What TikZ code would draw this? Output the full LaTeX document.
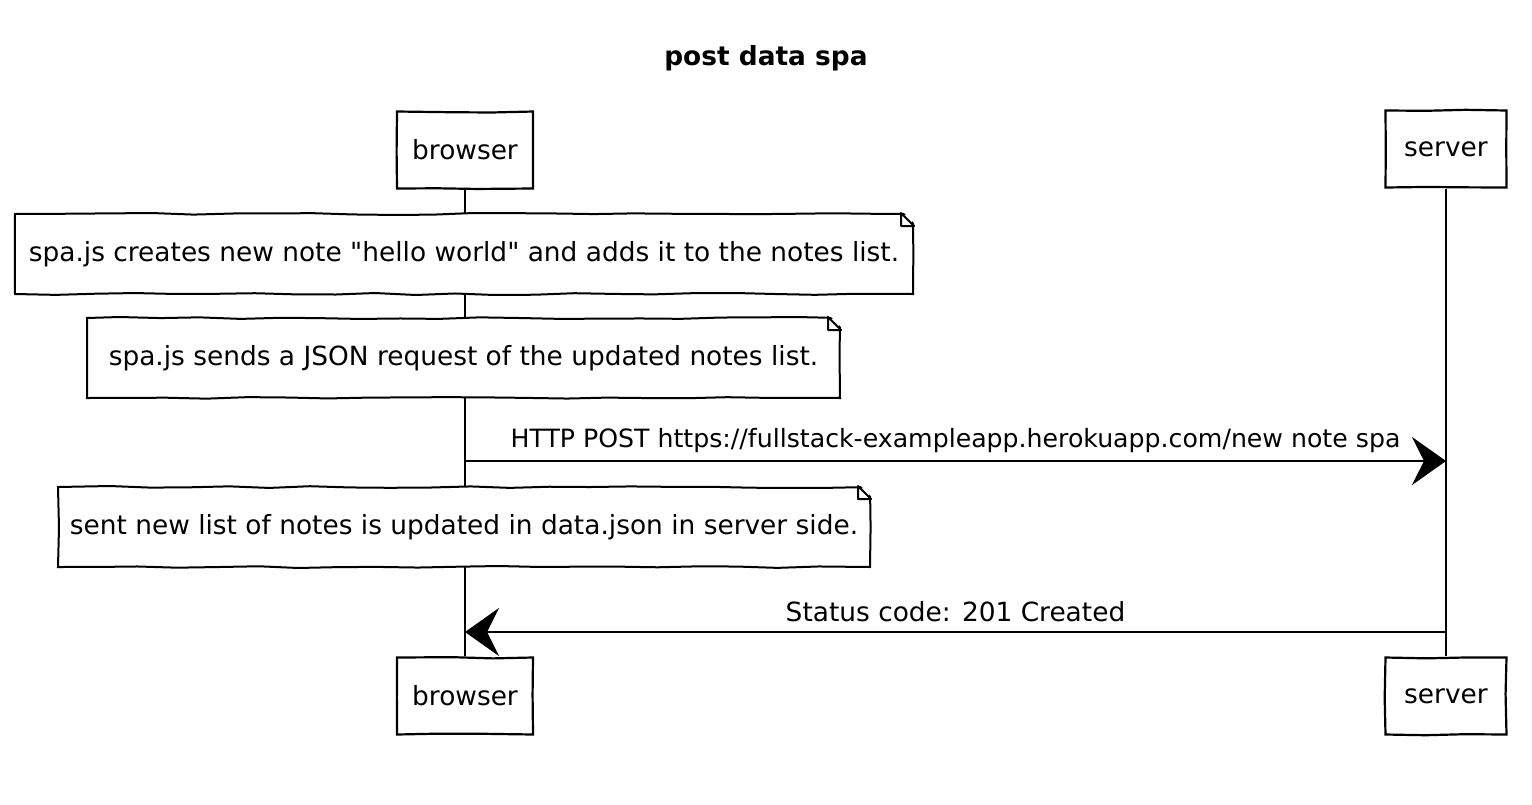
\documentclass[tikz,border=0pt]{standalone}
\usepackage{fontspec}
\setmainfont{DejaVu Sans}
\usetikzlibrary{arrows.meta,calc,decorations.pathmorphing}

\tikzset{
  sketch/.style={decorate,decoration={random steps,segment length=20pt,amplitude=0.5pt}},
  handfont/.style={font=\fontsize{13.2}{15}\selectfont},
  actor/.style={draw,line width=1.1pt,minimum width=68pt,minimum height=38.5pt,inner sep=0pt,handfont,sketch},
  notebox/.style={draw,line width=1pt,fill=white,minimum height=40pt,inner sep=0pt,handfont,sketch},
  lifeline/.style={line width=0.6pt},
  msg/.style={line width=1.2pt,-{Stealth[length=17pt,width=24pt,inset=6pt]}},
}

\begin{document}
\begin{tikzpicture}[x=0.5pt,y=-0.5pt]
\pgfmathsetseed{7}
\useasboundingbox (0,0) rectangle (1532,804);

% title
\node[font=\fontsize{13.2}{16}\selectfont\bfseries] (title) at (766,58) {post data spa};

% participants
\node[actor] (browserTop) at (465,150) {browser};
\node[actor,minimum width=60.5pt] (serverTop) at (1446,149) {server};
\node[actor] (browserBot) at (465,696) {browser};
\node[actor,minimum width=60.5pt] (serverBot) at (1446,696) {server};

\draw[lifeline] (browserTop) -- (browserBot);
\draw[lifeline] (serverTop) -- (serverBot);

% notes
\node[notebox,minimum width=449pt] (noteCreate) at (464,254)
  {spa.js creates new note \textquotedbl hello world\textquotedbl{} and adds it to the notes list.};
\node[notebox,minimum width=376.5pt] (noteSend) at (463.5,358)
  {spa.js sends a JSON request of the updated notes list.};
\node[notebox,minimum width=406pt] (noteSaved) at (464,527)
  {sent new list of notes is updated in data.json in server side.};

\foreach \n in {noteCreate,noteSend,noteSaved}{
  \fill[white] ($(\n.north east)+(-13,-3)$) -- ($(\n.north east)+(3,-3)$) -- ($(\n.north east)+(3,13)$) -- cycle;
  \draw[line width=1pt,line join=round] ($(\n.north east)+(-13,0)$) -- ($(\n.north east)+(-13,13)$) -- ($(\n.north east)+(0,13)$) -- cycle;
}

% messages
\coordinate (postFrom) at (465,461);
\coordinate (postTo) at (1446,461);
\coordinate (replyFrom) at (1446,632);
\coordinate (replyTo) at (465,632);

\draw[msg] (postFrom) -- node[above=0pt,font=\fontsize{12.6}{15}\selectfont]
  {HTTP POST https://fullstack-exampleapp.herokuapp.com/new note spa} (postTo);
\draw[msg] (replyFrom) -- node[above=1pt,handfont] {Status code: 201 Created} (replyTo);
\end{tikzpicture}
\end{document}
